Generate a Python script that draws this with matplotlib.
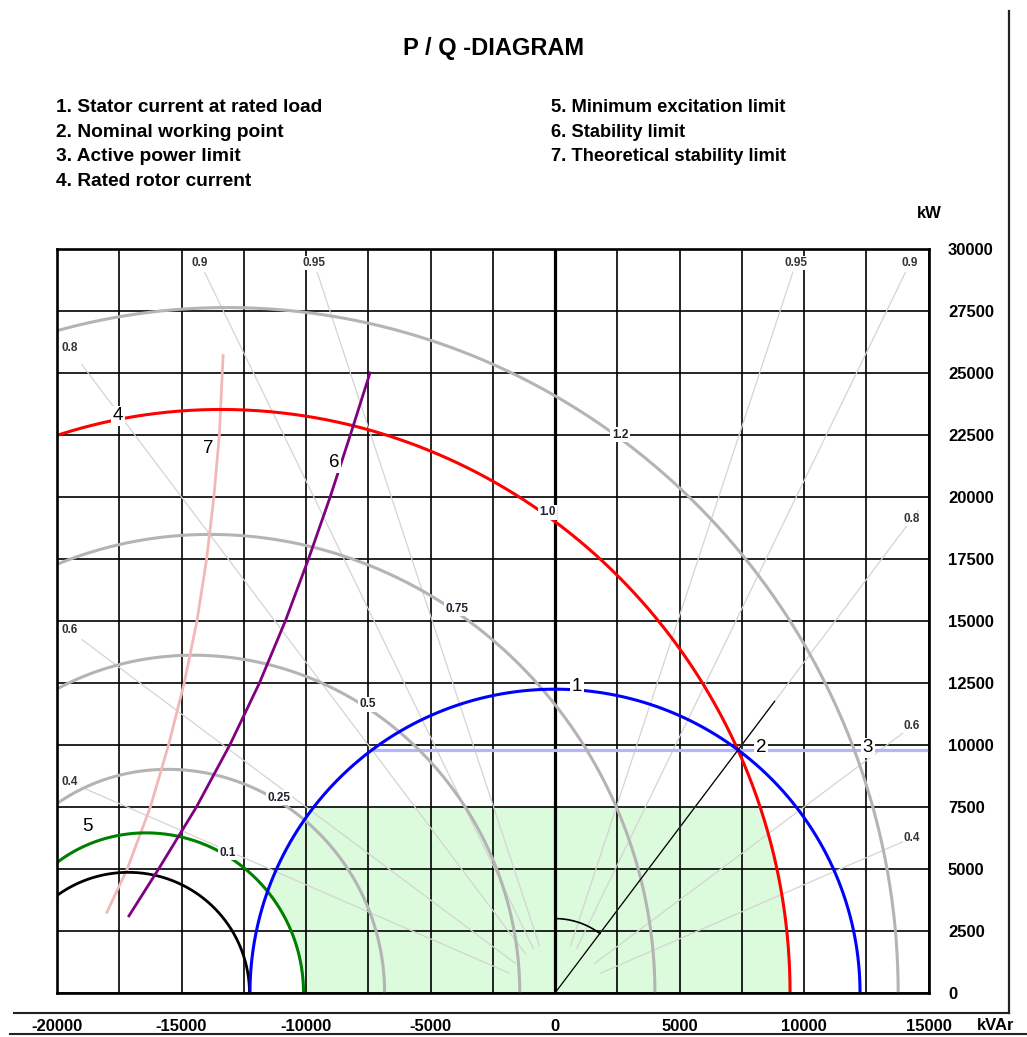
import numpy as np
import matplotlib
matplotlib.use("Agg")
import matplotlib.pyplot as plt
from matplotlib.lines import Line2D

plt.rcParams['font.family'] = ['Liberation Sans', 'DejaVu Sans']

# ---------------- machine data ----------------
S_RATED = 12250.0      # rated apparent power, kVA
P_RATED = 9800.0       # rated active power, kW
Q_RATED = 7350.0       # rated reactive power, kVAr

# salient-pole constants at rated voltage (kVAr)
V2_XD = 12270.0        # V^2 / Xd
V2_XQ = 22000.0        # V^2 / Xq
EV_XD_RATED = 21710.0  # E*V / Xd at rated rotor current

# rotor current levels (per unit of rated)
gray_levels = [1.2, 0.75, 0.5, 0.25]
rated_level = 1.0
min_excitation_level = 0.1
zero_level = 0.0
labelled_levels = [1.2, 1.0, 0.75, 0.5, 0.25, 0.1]
level_texts = ["1.2", "1.0", "0.75", "0.5", "0.25", "0.1"]

# power factor rays
power_factors = [0.95, 0.9, 0.8, 0.6, 0.4]
pf_texts = ["0.95", "0.9", "0.8", "0.6", "0.4"]

# practical stability limit (curve 6)
stab_q = [-17110, -15920, -14400, -13060, -11870, -10830, -9900, -9030, -8220, -7430]
stab_p = [3110, 5000, 7500, 10000, 12500, 15000, 17500, 20000, 22500, 25000]

# theoretical stability limit (curve 7)
theo_q = [-18000, -17180, -16250, -15520, -14890, -14380, -13990, -13700, -13480, -13330]
theo_p = [3250, 5000, 7500, 10000, 12500, 15000, 17500, 20000, 22500, 25700]

# axis ticks
x_grid = list(range(-20000, 15001, 2500))
x_tick_texts = ["-20000", "", "-15000", "", "-10000", "", "-5000", "", "0",
                "", "5000", "", "10000", "", "15000"]
y_grid = list(range(0, 30001, 2500))
y_tick_texts = ["0", "2500", "5000", "7500", "10000", "12500", "15000",
                "17500", "20000", "22500", "25000", "27500", "30000"]

legend_left = ["1. Stator current at rated load", "2. Nominal working point",
               "3. Active power limit", "4. Rated rotor current"]
legend_right = ["5. Minimum excitation limit", "6. Stability limit",
                "7. Theoretical stability limit"]

curve_numbers = ["1", "2", "3", "4", "5", "6", "7"]
curve_number_xy = [(880, 12340), (8270, 9880), (12570, 9880), (-17550, 23270),
                   (-18770, 6730), (-8880, 21370), (-13940, 21940)]


def excitation_curve(level, n=900):
    """P/Q locus of a salient-pole machine at constant rotor current."""
    d = np.linspace(0.0, np.radians(110), n)
    e = level * EV_XD_RATED
    q = e * np.cos(d) - V2_XD * np.cos(d) ** 2 - V2_XQ * np.sin(d) ** 2
    p = e * np.sin(d) + 0.5 * (V2_XQ - V2_XD) * np.sin(2 * d)
    return q, p


def rising_branch(q, p):
    k = int(np.argmax(p)) + 1
    return q[:k], p[:k]


fig = plt.figure(figsize=(10.27, 10.37), dpi=100)
ax = fig.add_axes([0.0555, 0.04243, 0.8486, 0.7175])
ax.set_xlim(-20000, 15000)
ax.set_ylim(0, 30000)

# grid and ticks
ax.set_xticks(x_grid, x_tick_texts)
ax.yaxis.tick_right()
ax.set_yticks(y_grid, y_tick_texts)
ax.tick_params(axis='x', length=0, pad=18.5, labelsize=12)
ax.tick_params(axis='y', length=0, pad=14, labelsize=12)
for lab in ax.get_xticklabels() + ax.get_yticklabels():
    lab.set_fontweight('bold')
ax.set_axisbelow(True)
ax.grid(True, color='black', lw=1.2)
for sp in ax.spines.values():
    sp.set_linewidth(1.9)
ax.axvline(0, color='black', lw=2.3, zorder=0.6)

# permitted operating area
pf_band = np.linspace(0, 7500, 400)
blue_left = -np.sqrt(S_RATED ** 2 - pf_band ** 2)
gq, gp = rising_branch(*excitation_curve(min_excitation_level))
green_left = np.interp(pf_band, gp, gq, right=-1e9)
rq, rp = rising_branch(*excitation_curve(rated_level))
red_right = np.interp(pf_band, rp, rq)
ax.fill_betweenx(pf_band, np.maximum(blue_left, green_left), red_right,
                 color='#dcfadc', lw=0, zorder=0.2)

# power factor rays
for pf, txt in zip(power_factors, pf_texts):
    s = np.sqrt(1 - pf ** 2)
    for side in (-1, 1):
        q_lim = -19000 if side < 0 else 14590
        r_end = min(29050 / pf, abs(q_lim) / s)
        r = np.array([2000.0, r_end])
        ax.plot(side * s * r, pf * r, color='#d4d4d4', lw=0.9, zorder=1)
        if 29050 / pf <= abs(q_lim) / s:
            lp = 29430
            lq = side * s * lp / pf
        else:
            lq = -19500 if side < 0 else 14340
            lp = abs(lq) * pf / s
        ax.text(lq, lp, txt, ha='center', va='center', fontsize=8.5,
                fontweight='bold', color='#333333', zorder=6,
                bbox=dict(boxstyle='square,pad=0.08', fc='white', ec='none'))

# active power limit
ax.plot([-np.sqrt(S_RATED ** 2 - P_RATED ** 2), 15000], [P_RATED, P_RATED],
        color='#b4b4ff', lw=2.3, zorder=1.5)

# rotor current curves
for lv in gray_levels:
    q, p = excitation_curve(lv)
    ax.plot(q, p, color='#b4b4b4', lw=2.2, zorder=2)
q, p = excitation_curve(rated_level)
ax.plot(q, p, color='#ff0000', lw=2.2, zorder=2.3)
q, p = excitation_curve(min_excitation_level)
ax.plot(q, p, color='#008000', lw=2.2, zorder=2.3)
q, p = excitation_curve(zero_level)
ax.plot(q, p, color='black', lw=2.0, zorder=2.3)

# stator current circle
t = np.linspace(0, np.pi, 400)
ax.plot(S_RATED * np.cos(t), S_RATED * np.sin(t), color='#0000ff', lw=2.2, zorder=2.4)

# stability limits
ax.plot(stab_q, stab_p, color='#800080', lw=2.0, zorder=2.5)
ax.plot(theo_q, theo_p, color='#f2b8b8', lw=2.0, zorder=2.2)

# load angle ray and arc
phi = np.arctan2(P_RATED, Q_RATED)
ax.plot([0, 1.2 * S_RATED * np.cos(phi)], [0, 1.2 * S_RATED * np.sin(phi)],
        color='black', lw=0.9, zorder=2.6)
ta = np.linspace(phi, np.pi / 2, 50)
ax.plot(3000 * np.cos(ta), 3000 * np.sin(ta), color='black', lw=1.2, zorder=2.6)

# rotor current level labels along a guide ray
guide_q0, guide_slope = -18300.0, 1.068
for lv, txt in zip(labelled_levels, level_texts):
    q, p = excitation_curve(lv, n=3000)
    g = p - guide_slope * (q - guide_q0)
    i = int(np.argmax(g >= 0))
    ax.text(q[i], p[i] + 150, txt, ha='center', va='center', fontsize=8.5,
            fontweight='bold', color='#202030', zorder=6,
            bbox=dict(boxstyle='square,pad=0.12', fc='white', ec='none'))

# curve numbers
for txt, (xq, yp) in zip(curve_numbers, curve_number_xy):
    ax.text(xq, yp, txt, ha='center', va='center', fontsize=13.5, color='black',
            zorder=7, bbox=dict(boxstyle='square,pad=0.08', fc='white', ec='none'))

# titles and legend
fig.text(0.481, 0.9537, "P / Q -DIAGRAM", ha='center', va='center',
         fontsize=17, fontweight='bold')
for i, txt in enumerate(legend_left):
    fig.text(0.0545, 0.8959 - i * 0.02355, txt, ha='left', va='center',
             fontsize=13.8, fontweight='bold')
for i, txt in enumerate(legend_right):
    fig.text(0.5365, 0.8959 - i * 0.02355, txt, ha='left', va='center',
             fontsize=13.2, fontweight='bold')
fig.text(929 / 1027, 1 - 213 / 1037, "kW", ha='center', va='center',
         fontsize=12, fontweight='bold')
fig.text(996 / 1027, 1 - 1025 / 1037, "kVAr", ha='center', va='center',
         fontsize=12, fontweight='bold')

# page frame lines
fig.add_artist(Line2D([1009 / 1027, 1009 / 1027], [1 - 11 / 1037, 1 - 1013 / 1037],
                      transform=fig.transFigure, color='#222222', lw=1.6))
fig.add_artist(Line2D([14 / 1027, 1009 / 1027], [1 - 1013 / 1037, 1 - 1013 / 1037],
                      transform=fig.transFigure, color='#222222', lw=1.5))
fig.add_artist(Line2D([10 / 1027, 1.0], [1 - 1034 / 1037, 1 - 1034 / 1037],
                      transform=fig.transFigure, color='#222222', lw=1.5))

fig.savefig("out.png", dpi=100)
